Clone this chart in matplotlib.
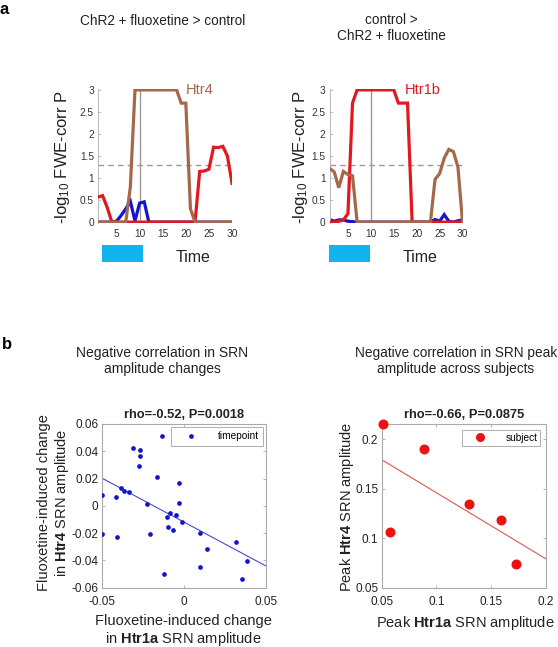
import numpy as np
import matplotlib
matplotlib.use("Agg")
import matplotlib.pyplot as plt
from matplotlib.patches import Rectangle
import matplotlib.transforms as mtrans

plt.rcParams['font.family'] = ['Liberation Sans', 'DejaVu Sans']
plt.rcParams['mathtext.fontset'] = 'custom'
plt.rcParams['mathtext.rm'] = 'Liberation Sans'
plt.rcParams['mathtext.bf'] = 'Liberation Sans:bold'
plt.rcParams['mathtext.it'] = 'Liberation Sans:italic'

# ---------------- data ----------------
time = list(range(1, 31))

red_left = [0.57, 0.6, 0.33] + [0]*19 + [1.15, 1.16, 1.2, 1.7, 1.69, 1.72, 1.5, 0.88]
brown_left = [0]*7 + [0.8] + [3]*10 + [2.7, 2.7, 0.3] + [0]*9
blue_left = [0, 0, 0, 0, 0.02, 0.15, 0.3, 0.47, 0.03, 0.43, 0.46] + [0]*19

red_right = [0, 0, 0.02, 0.05, 0.19, 2.7] + [3]*9 + [2.7, 2.7, 2.7, 0] + [0]*11
brown_right = [1.22, 1.14, 0.78, 1.15, 1.08, 1.05] + [0]*17 + [0.97, 1.1, 1.45, 1.65, 1.6, 1.25, 0]
blue_right = [0.06, 0.02, 0.05, 0.05, 0.02, 0.01] + [0]*17 + [0.06, 0.02, 0.17, 0.02, 0.0, 0.03, 0.05]

stim_left = (1.8, 10.8)
stim_right = (0.8, 9.9)
sig_threshold = 1.3
stim_end_line = 10

a_titles = ["ChR2 + fluoxetine > control", "control >\nChR2 + fluoxetine"]
a_labels = ["Htr4", "Htr1b"]
a_label_x = [19.9, 17.4]

tp_x = [-0.0496, -0.0496, -0.0413, -0.0405, -0.038, -0.0364, -0.0334, -0.0311, -0.0269, -0.0265,
        -0.0271, -0.0226, -0.0208, -0.0161, -0.0135, -0.0123, -0.0104, -0.0097, -0.0084, -0.0066,
        -0.0046, -0.0032, -0.0028, -0.0012, 0.0096, 0.0098, 0.0141, 0.0315, 0.0354, 0.0384]
tp_y = [0.0079, -0.0209, 0.0065, -0.0226, 0.0133, 0.0109, 0.0099, 0.0426, 0.0407, 0.0363,
        0.0294, 0.0011, -0.0206, 0.0214, 0.0510, -0.0502, -0.0082, -0.0155, -0.0053, -0.0175,
        -0.0070, 0.0170, 0.0018, -0.0119, -0.0197, -0.0446, -0.0319, -0.0263, -0.0534, -0.0407]
tp_fit_x = [-0.05, 0.05]
tp_fit_y = [0.0204, -0.0441]

subj_x = [0.0509, 0.0573, 0.0882, 0.1295, 0.1586, 0.1723]
subj_y = [0.2152, 0.1061, 0.1902, 0.1345, 0.1189, 0.0740]
subj_fit_x = [0.05, 0.2]
subj_fit_y = [0.1794, 0.0791]

# ---------------- style ----------------
RED = '#e3181f'
BROWN = '#a5684a'
BLUE = '#1414cf'
CYAN = '#12b4ee'
GREY = '#9a9a9a'
TXT = '#222222'

W, H = 558, 647
fig = plt.figure(figsize=(W/100, H/100), dpi=100)

def fx(px):
    return px / W

def fy(py):
    return 1 - py / H

def axes_rect(l, r, t, b):
    return [fx(l), fy(b), (r - l)/W, (b - t)/H]

# ---------------- panel a ----------------
a_rects = [axes_rect(98, 232.5, 89, 223), axes_rect(329.6, 463, 89, 223)]
series = [(blue_left, red_left, brown_left), (blue_right, red_right, brown_right)]
stims = [stim_left, stim_right]
label_cols = [BROWN, RED]
time_x = [21.6, 20.7]
for i in range(2):
    ax = fig.add_axes(a_rects[i])
    b, r, br = series[i]
    ax.plot([stim_end_line, stim_end_line], [0, 3], color=GREY, lw=1.0, zorder=1)
    ax.plot([1, 30], [sig_threshold, sig_threshold], color=GREY, lw=1.0, ls=(0, (4, 3)), zorder=1)
    ax.plot(time, b, color=BLUE, lw=2.3, zorder=2, solid_joinstyle='miter')
    ax.plot(time, r, color=RED, lw=2.3, zorder=3, solid_joinstyle='miter')
    ax.plot(time, br, color=BROWN, lw=2.3, zorder=4, solid_joinstyle='miter')
    ax.set_xlim(1, 30.1)
    ax.set_ylim(-0.02, 3.02)
    ax.set_xticks([5, 10, 15, 20, 25, 30])
    ax.set_yticks([0, 0.5, 1, 1.5, 2, 2.5, 3])
    ax.set_yticklabels(['0', '0.5', '1', '1.5', '2', '2.5', '3'])
    for s in ['top', 'right', 'bottom']:
        ax.spines[s].set_visible(False)
    ax.spines['left'].set_color('#bbbbbb')
    ax.spines['left'].set_linewidth(0.8)
    ax.tick_params(axis='both', direction='in', length=2, width=0.6, colors='#bbbbbb',
                   labelcolor='#333333', labelsize=7.3, pad=3)
    ax.tick_params(axis='x', length=0, pad=4)
    ax.text(a_label_x[i], 3.0, a_labels[i], color=label_cols[i], fontsize=10.5,
            ha='left', va='center')
    trans = mtrans.blended_transform_factory(ax.transData, ax.transAxes)
    s0, s1 = stims[i]
    ax.add_patch(Rectangle((s0, -0.291), s1 - s0, 0.127, transform=trans,
                           color=CYAN, clip_on=False, lw=0))
    ax.text(time_x[i], -0.255, "Time", transform=trans, fontsize=11.5, color=TXT,
            ha='center', va='center')

fig.text(fx(62), fy(157), r'-log$_{10}$ FWE-corr P', rotation=90, ha='center', va='center',
         fontsize=12, color=TXT)
fig.text(fx(301), fy(157), r'-log$_{10}$ FWE-corr P', rotation=90, ha='center', va='center',
         fontsize=12, color=TXT)
fig.text(fx(163), fy(21), a_titles[0], ha='center', va='center', fontsize=9.8, color=TXT)
fig.text(fx(391), fy(28), a_titles[1], ha='center', va='center', fontsize=9.8, color=TXT,
         linespacing=1.25)
fig.text(fx(0), fy(9), 'a', fontsize=12, fontweight='bold', ha='left', va='center')
fig.text(fx(2), fy(344), 'b', fontsize=12, fontweight='bold', ha='left', va='center')

# ---------------- panel b ----------------
def style_box(ax):
    for s in ax.spines.values():
        s.set_color('#aaaaaa')
        s.set_linewidth(0.8)
    ax.tick_params(axis='both', direction='in', length=2.5, width=0.6, colors='#aaaaaa',
                   labelcolor='#222222', labelsize=8.5, pad=2.5, top=True, right=True)
    ax.tick_params(axis='x', pad=6)

axL = fig.add_axes(axes_rect(101.7, 266, 424, 587.7))
axL.plot(tp_x, tp_y, 'o', color=BLUE, ms=3.4, mec='none', label='timepoint', zorder=3)
axL.plot(tp_fit_x, tp_fit_y, '-', color='#4a4ad0', lw=0.8, zorder=2)
axL.set_xlim(-0.05, 0.05)
axL.set_ylim(-0.06, 0.06)
axL.set_xticks([-0.05, 0, 0.05])
axL.set_xticklabels(['-0.05', '0', '0.05'])
axL.set_yticks([-0.06, -0.04, -0.02, 0, 0.02, 0.04, 0.06])
axL.set_yticklabels(['-0.06', '-0.04', '-0.02', '0', '0.02', '0.04', '0.06'])
style_box(axL)
leg = axL.legend(loc='upper right', fontsize=7.3, frameon=True, fancybox=False,
                 handlelength=3.2, handletextpad=1.0, borderaxespad=0.25, borderpad=0.45,
                 markerscale=1.0)
leg.get_frame().set_edgecolor('#999999')
leg.get_frame().set_linewidth(0.7)
axL.text(0.5, 1.055, 'rho=-0.52, P=0.0018', transform=axL.transAxes, ha='center', va='center',
         fontsize=9.3, fontweight='bold', color=TXT)

axR = fig.add_axes(axes_rect(381.7, 546, 424, 587.7))
axR.plot(subj_x, subj_y, 'o', color='#ee1111', ms=7.2, mec='none', label='subject', zorder=3,
         clip_on=False)
axR.plot(subj_fit_x, subj_fit_y, '-', color='#e05555', lw=0.8, zorder=2)
axR.set_xlim(0.05, 0.2)
axR.set_ylim(0.05, 0.2155)
axR.set_xticks([0.05, 0.1, 0.15, 0.2])
axR.set_xticklabels(['0.05', '0.1', '0.15', '0.2'])
axR.set_yticks([0.05, 0.1, 0.15, 0.2])
axR.set_yticklabels(['0.05', '0.1', '0.15', '0.2'])
style_box(axR)
leg2 = axR.legend(loc='upper right', fontsize=7.3, frameon=True, fancybox=False,
                  handlelength=3.0, handletextpad=1.0, borderaxespad=0.55, borderpad=0.3,
                  markerscale=0.9)
leg2.get_frame().set_edgecolor('#999999')
leg2.get_frame().set_linewidth(0.7)
axR.text(0.5, 1.055, 'rho=-0.66, P=0.0875', transform=axR.transAxes, ha='center', va='center',
         fontsize=9.3, fontweight='bold', color=TXT)

fig.text(fx(162), fy(361), 'Negative correlation in SRN\namplitude changes', ha='center',
         va='center', fontsize=10, color=TXT, linespacing=1.25)
fig.text(fx(456), fy(361), 'Negative correlation in SRN peak\namplitude across subjects',
         ha='center', va='center', fontsize=9.8, color=TXT, linespacing=1.25)

fig.text(fx(54), fy(503), 'Fluoxetine-induced change\nin $\\mathbf{Htr4}$ SRN amplitude',
         rotation=90, ha='center', va='center', fontsize=10.5, color=TXT, linespacing=1.1)
fig.text(fx(183), fy(631), 'Fluoxetine-induced change\nin $\\mathbf{Htr1a}$ SRN amplitude',
         ha='center', va='center', fontsize=10.5, color=TXT, linespacing=1.15)
fig.text(fx(347), fy(507), 'Peak $\\mathbf{Htr4}$ SRN amplitude', rotation=90,
         ha='center', va='center', fontsize=10.5, color=TXT)
fig.text(fx(465), fy(623), 'Peak $\\mathbf{Htr1a}$ SRN amplitude', ha='center', va='center',
         fontsize=10.5, color=TXT)

fig.savefig('out.png', dpi=100)
